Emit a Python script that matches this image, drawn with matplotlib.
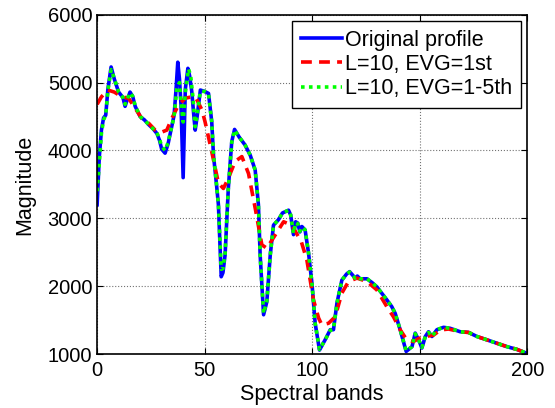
import numpy as np
import matplotlib
matplotlib.use("Agg")
import matplotlib.pyplot as plt

plt.rcParams['font.family'] = ['Liberation Sans', 'DejaVu Sans']

# original profile
orig_x = [0, 1, 2, 3, 4, 5, 6.5, 8, 10, 12, 13, 14, 15.3, 16.5, 17.7, 20, 22, 24, 26,
          27.8, 29, 30, 31.6, 33, 34, 35.8, 36.7, 37.5, 38.3, 39, 40, 41, 42.2, 43, 44,
          45, 45.6, 46.5, 48, 50, 51.8, 53.3, 54.1, 55.5, 56.4, 57.7, 58.5, 59.5, 61,
          62.6, 63.9, 66, 68.8, 71.2, 73.5, 75, 75.8, 77.4, 78.9, 80.5, 82, 84.3, 86.2,
          89, 90, 91.3, 92.3, 93.3, 94.3, 95.2, 96.7, 98.3, 99.9, 101.4, 103.4, 106,
          108.4, 109.9, 111.5, 113.8, 116, 117.4, 120, 121, 122.3, 125.5, 128, 130.1,
          134.7, 137, 138.6, 140.9, 143.7, 146.4, 147.9, 149.5, 151, 152.6, 154.1,
          155.7, 158, 161.1, 164.2, 168.8, 172.7, 176.6, 181.3, 185.9, 190.6, 195.2, 200]
orig_y = [3200, 3900, 4300, 4480, 4520, 4900, 5230, 5050, 4860, 4780, 4650, 4750, 4860,
          4800, 4650, 4500, 4450, 4380, 4320, 4250, 4150, 4020, 3960, 4100, 4250, 4520,
          4900, 5300, 5050, 4670, 3600, 4900, 5210, 5100, 4870, 4500, 4300, 4500, 4890,
          4870, 4840, 4420, 3930, 3500, 3200, 2140, 2200, 2460, 3440, 4130, 4310, 4200,
          4080, 3930, 3710, 3200, 2460, 1580, 1770, 2460, 2900, 2980, 3080, 3120, 3050,
          2760, 2950, 2930, 2800, 2880, 2830, 2490, 2040, 1450, 1060, 1210, 1360, 1360,
          1750, 2090, 2180, 2215, 2120, 2150, 2110, 2110, 2050, 1990, 1800, 1700, 1600,
          1360, 1040, 1110, 1310, 1210, 1090, 1260, 1330, 1260, 1360, 1395, 1380, 1330,
          1320, 1260, 1210, 1160, 1110, 1070, 1010]

# L=10, EVG=1st
evg1_x = [0, 2, 5, 8, 11.5, 14.6, 17.7, 20.8, 24, 27, 30, 32.4, 34.7, 37.8, 41, 44, 46,
          48.7, 50.2, 53.3, 56.4, 58.7, 61, 64.2, 67.3, 70.4, 73.5, 76.6, 78.9, 82.8,
          86.7, 90.5, 93.6, 95, 97.5, 100.6, 103, 104.5, 107.6, 110.7, 113.8, 116.9,
          120.8, 125.5, 130.1, 134.7, 137.8, 140.9, 144, 147.1, 149.5, 152.6, 156.4,
          159.6, 163.4, 168.8, 172.7, 176.6, 181.3, 185.9, 190.6, 195.2, 200]
evg1_y = [4680, 4790, 4890, 4860, 4790, 4770, 4620, 4470, 4400, 4300, 4270, 4300, 4470,
          4670, 4770, 4790, 4770, 4600, 4420, 3980, 3520, 3440, 3590, 3840, 3910, 3660,
          3150, 2610, 2560, 2755, 2950, 2900, 2730, 2650, 2390, 1800, 1530, 1430, 1455,
          1550, 1900, 2070, 2120, 2070, 1945, 1700, 1550, 1360, 1210, 1185, 1230, 1260,
          1280, 1356, 1370, 1330, 1320, 1260, 1210, 1160, 1110, 1070, 1010]

# L=10, EVG=1-5th
evg5_x = [0, 1, 2, 3, 4, 5, 6.5, 8, 10, 12, 13, 14, 15.3, 16.5, 17.7, 20, 22, 24, 26,
          27.8, 29, 30, 31.6, 33, 34, 35.8, 37, 38.3, 39, 40, 41, 42.5, 43.5, 44.5,
          45.6, 46.5, 48, 50, 51.8, 53.3, 54.1, 55.5, 56.4, 57.7, 58.5, 59.5, 61, 62.6,
          63.9, 66, 68.8, 71.2, 73.5, 75, 75.8, 77.4, 78.9, 80.5, 82, 84.3, 86.2, 89,
          90, 91.3, 92.3, 93.3, 94.3, 95.2, 96.7, 98.3, 99.9, 101.4, 103.4, 106, 108.4,
          109.9, 111.5, 113.8, 116, 117.4, 120, 121, 122.3, 125.5, 128, 130.1, 134.7,
          137, 138.6, 140.9, 143.7, 146.4, 147.9, 149.5, 151, 152.6, 154.1, 155.7, 158,
          161.1, 164.2, 168.8, 172.7, 176.6, 181.3, 185.9, 190.6, 195.2, 200]
evg5_y = [3400, 3800, 4250, 4450, 4520, 4880, 5190, 5060, 4860, 4780, 4680, 4760, 4850,
          4800, 4660, 4500, 4450, 4380, 4320, 4260, 4170, 4060, 4000, 4120, 4260, 4500,
          4900, 5000, 4700, 4420, 4850, 5200, 5100, 4800, 4350, 4520, 4870, 4870, 4830,
          4420, 3950, 3500, 3200, 2250, 2260, 2480, 3440, 4120, 4300, 4200, 4080, 3930,
          3710, 3200, 2460, 1600, 1780, 2460, 2900, 2980, 3080, 3120, 3050, 2780, 2940,
          2920, 2810, 2870, 2830, 2490, 2040, 1450, 1070, 1210, 1350, 1370, 1750, 2090,
          2180, 2210, 2120, 2140, 2110, 2110, 2050, 1990, 1800, 1700, 1600, 1360, 1050,
          1110, 1300, 1210, 1100, 1260, 1320, 1260, 1360, 1395, 1380, 1330, 1320, 1260,
          1210, 1160, 1110, 1070, 1010]

fig = plt.figure(figsize=(5.55, 4.08), dpi=100)
ax = fig.add_axes([0.175, 0.132, 0.775, 0.832])

ax.plot(orig_x, orig_y, color=(0, 0, 1), lw=2.6, label='Original profile')
ax.plot(evg1_x, evg1_y, color=(1, 0, 0), lw=2.6, ls=(0, (3, 2)), label='L=10, EVG=1st')
ax.plot(evg5_x, evg5_y, color=(0, 1, 0), lw=2.6, ls=(0, (1, 1.2)), label='L=10, EVG=1-5th')

ax.set_xlim(0, 200)
ax.set_ylim(1000, 6000)
ax.set_xticks([0, 50, 100, 150, 200])
ax.set_yticks([1000, 2000, 3000, 4000, 5000, 6000])
ax.tick_params(direction='in', labelsize=14.5, length=4, top=True, right=True)
ax.tick_params(axis='x', pad=5)
ax.grid(True, ls=':', color='0.45', lw=0.8)
for s in ax.spines.values():
    s.set_linewidth(1.2)

ax.set_xlabel('Spectral bands', fontsize=15.5, labelpad=3)
ax.set_ylabel('Magnitude', fontsize=15.5, labelpad=9)

leg = ax.legend(loc='upper right', fontsize=15.5, fancybox=False, framealpha=1,
                edgecolor='black', borderaxespad=0.3, handlelength=1.9,
                handletextpad=0.15, borderpad=0.4, labelspacing=0.15)
leg.get_frame().set_linewidth(1.0)

plt.savefig('out.png', dpi=100)
